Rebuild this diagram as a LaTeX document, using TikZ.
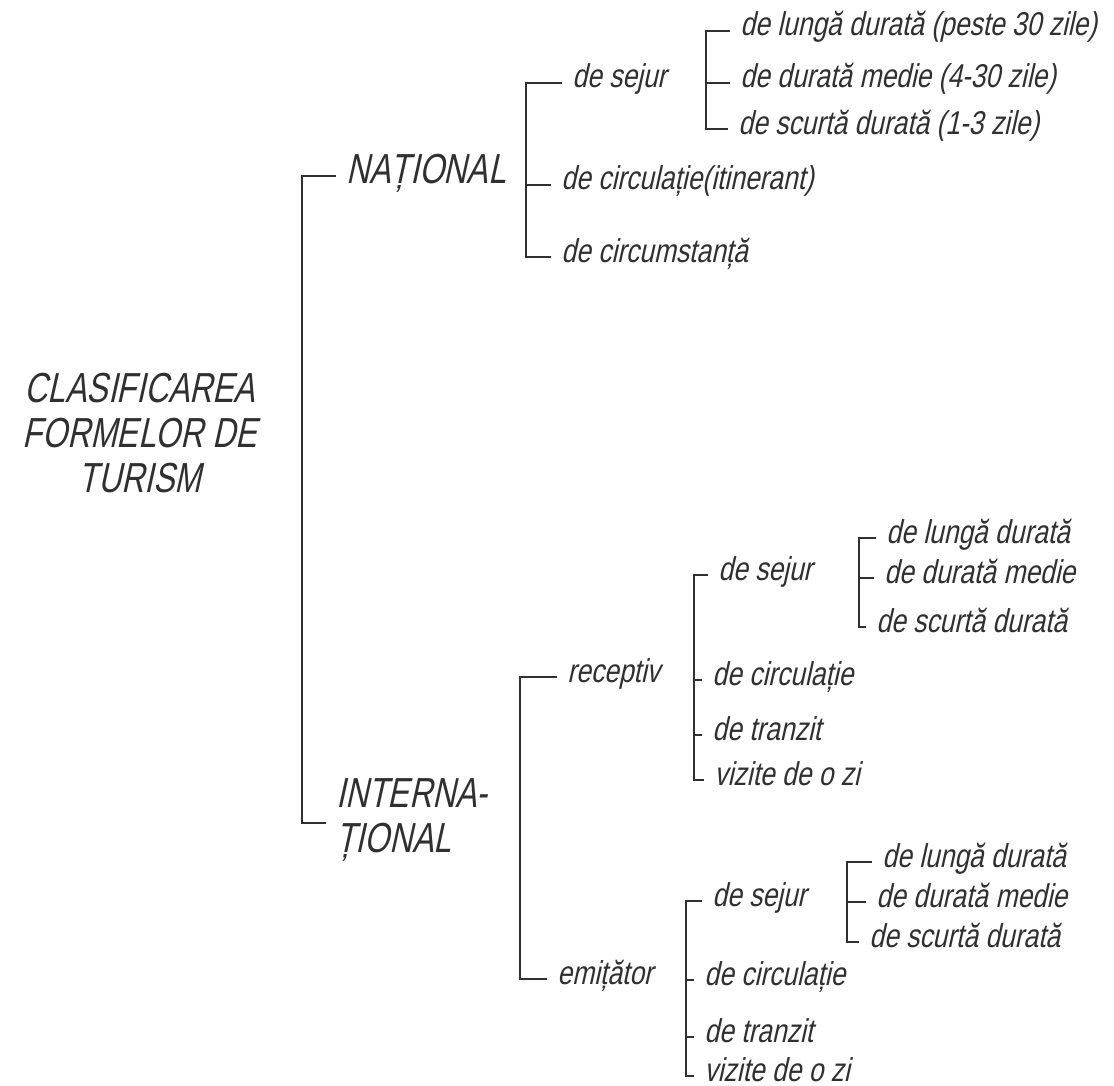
\documentclass[tikz,border=0pt]{standalone}
\usepackage{fontspec}
\setmainfont{Liberation Sans}
\newfontfamily\techfont{Liberation Sans}[FakeSlant=0.22, FakeStretch=0.8]
\newfontfamily\techcaps{Liberation Sans}[FakeSlant=0.22, FakeStretch=0.76]
\newcommand{\lowtext}{\techfont\fontsize{16.5}{20}\selectfont}
\newcommand{\captext}{\techcaps\fontsize{21}{22.5}\selectfont}
\definecolor{ink}{HTML}{303030}

\tikzset{
  leaf/.style={anchor=west, inner xsep=5pt, inner ysep=0pt, text=ink,
    text height=0.72em, text depth=0.22em, font=\lowtext},
  branch/.style={anchor=west, inner xsep=5pt, inner ysep=0pt, text=ink,
    align=left, font=\captext},
  brace/.style={draw=ink, line width=0.7pt},
}

\begin{document}
\begin{tikzpicture}[x=0.5pt, y=-0.5pt]
    \useasboundingbox (0,0) rectangle (1114,1086);

    % root
    \node[branch, anchor=center, align=center, inner sep=0pt] (root) at (140,433)
        {CLASIFICAREA\\FORMELOR DE\\TURISM};

    % first level
    \node[branch, text height=0.72em, text depth=0em] (nat) at (336,176) {NAȚIONAL};
    \node[branch] (inter) at (326,820) {INTERNA-\\ȚIONAL};

    % national
    \node[leaf] (nsej)  at (562,83)  {de sejur};
    \node[leaf] (ncirc) at (551,185) {de circulație(itinerant)};
    \node[leaf] (ncsta) at (551,257) {de circumstanță};
    \node[leaf] (nlun)  at (730,31)  {de lungă durată (peste 30 zile)};
    \node[leaf] (nmed)  at (730,83)  {de durată medie (4-30 zile)};
    \node[leaf] (nscu)  at (728,129) {de scurtă durată (1-3 zile)};

    % international, receptiv
    \node[leaf] (rec)   at (557,677) {receptiv};
    \node[leaf] (rsej)  at (708,575) {de sejur};
    \node[leaf] (rcirc) at (702,680) {de circulație};
    \node[leaf] (rtra)  at (702,735) {de tranzit};
    \node[leaf] (rviz)  at (704,780) {vizite de o zi};
    \node[leaf] (rlun)  at (876,538) {de lungă durată};
    \node[leaf] (rmed)  at (874,578) {de durată medie};
    \node[leaf] (rscu)  at (866,627) {de scurtă durată};

    % international, emitator
    \node[leaf] (emi)   at (547,979) {emițător};
    \node[leaf] (esej)  at (702,901) {de sejur};
    \node[leaf] (ecirc) at (694,980) {de circulație};
    \node[leaf] (etra)  at (694,1037) {de tranzit};
    \node[leaf] (eviz)  at (694,1076) {vizite de o zi};
    \node[leaf] (elun)  at (872,862) {de lungă durată};
    \node[leaf] (emed)  at (866,902) {de durată medie};
    \node[leaf] (escu)  at (859,942) {de scurtă durată};

    % bracket spines
    \coordinate (rootbar) at (302,0);
    \coordinate (natbar)  at (526,0);
    \coordinate (nsejbar) at (706,0);
    \coordinate (intbar)  at (520,0);
    \coordinate (recbar)  at (694,0);
    \coordinate (rsejbar) at (859,0);
    \coordinate (emibar)  at (686,0);
    \coordinate (esejbar) at (847,0);

    % brackets
    \draw[brace] (nat.west) -- (nat.west -| rootbar)
        -- ([yshift=-1.5pt]inter.west -| rootbar) -- ([yshift=-1.5pt]inter.west);

    \draw[brace] (nsej.west) -- (nsej.west -| natbar) -- (ncsta.west -| natbar) -- (ncsta.west);
    \draw[brace] (ncirc.west) -- (ncirc.west -| natbar);

    \draw[brace] (nlun.west) -- (nlun.west -| nsejbar) -- (nscu.west -| nsejbar) -- (nscu.west);
    \draw[brace] (nmed.west) -- (nmed.west -| nsejbar);

    \draw[brace] (rec.west) -- (rec.west -| intbar) -- (emi.west -| intbar) -- (emi.west);

    \draw[brace] (rsej.west) -- (rsej.west -| recbar) -- (rviz.west -| recbar) -- (rviz.west);
    \foreach \n in {rcirc,rtra}
        \draw[brace] (\n.west) -- (\n.west -| recbar);

    \draw[brace] (rlun.west) -- (rlun.west -| rsejbar) -- (rscu.west -| rsejbar) -- (rscu.west);
    \draw[brace] (rmed.west) -- (rmed.west -| rsejbar);

    \draw[brace] (esej.west) -- (esej.west -| emibar) -- (eviz.west -| emibar) -- (eviz.west);
    \foreach \n in {ecirc,etra}
        \draw[brace] (\n.west) -- (\n.west -| emibar);

    \draw[brace] (elun.west) -- (elun.west -| esejbar) -- (escu.west -| esejbar) -- (escu.west);
    \draw[brace] (emed.west) -- (emed.west -| esejbar);
\end{tikzpicture}
\end{document}
